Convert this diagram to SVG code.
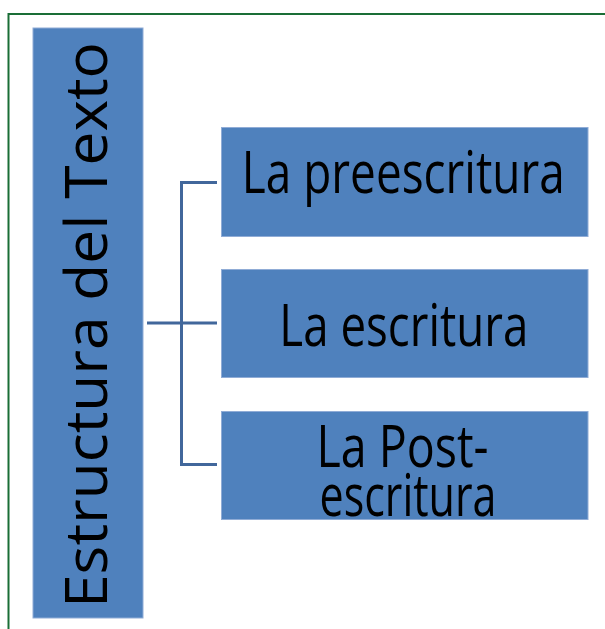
<svg xmlns="http://www.w3.org/2000/svg" width="605" height="629" viewBox="0 0 605 629">
<style>
.box{fill:#4f81bd;stroke:#90acd6;stroke-width:1}
.lbl{font-family:"Open Sans","Liberation Sans",sans-serif;font-size:42px;fill:#000}
.con{stroke:#41679b;stroke-width:3;fill:none}
</style>
<rect x="0" y="0" width="605" height="629" fill="#ffffff"/>
<rect x="8.5" y="14" width="610" height="630" fill="none" stroke="#1a6e36" stroke-width="2"/>
<g id="connectors">
<path class="con" d="M147 323H217M181.5 182.5V464.5M180 182.5H217M180 464.5H217"/>
</g>
<g id="root">
<rect class="box" x="33" y="28" width="110" height="590"/>
<text class="lbl" transform="translate(107,608) rotate(-90) scale(1,1.38)" x="0" y="0" textLength="566" lengthAdjust="spacingAndGlyphs">Estructura del Texto</text>
</g>
<g id="preescritura">
<rect class="box" x="221.5" y="127.5" width="366.5" height="109"/>
<text class="lbl" transform="translate(403.3,193.3) scale(1,1.38)" text-anchor="middle" textLength="323" lengthAdjust="spacingAndGlyphs">La preescritura</text>
</g>
<g id="escritura">
<rect class="box" x="221.5" y="269.5" width="366.5" height="108"/>
<text class="lbl" transform="translate(403.8,346) scale(1,1.38)" text-anchor="middle" textLength="249" lengthAdjust="spacingAndGlyphs">La escritura</text>
</g>
<g id="postescritura">
<rect class="box" x="221.5" y="411.5" width="366.5" height="108"/>
<text class="lbl" transform="translate(402.5,466.7) scale(1,1.38)" text-anchor="middle" textLength="172" lengthAdjust="spacingAndGlyphs">La Post-</text>
<text class="lbl" transform="translate(408,515.5) scale(1,1.38)" text-anchor="middle" textLength="177" lengthAdjust="spacingAndGlyphs">escritura</text>
</g>
</svg>
